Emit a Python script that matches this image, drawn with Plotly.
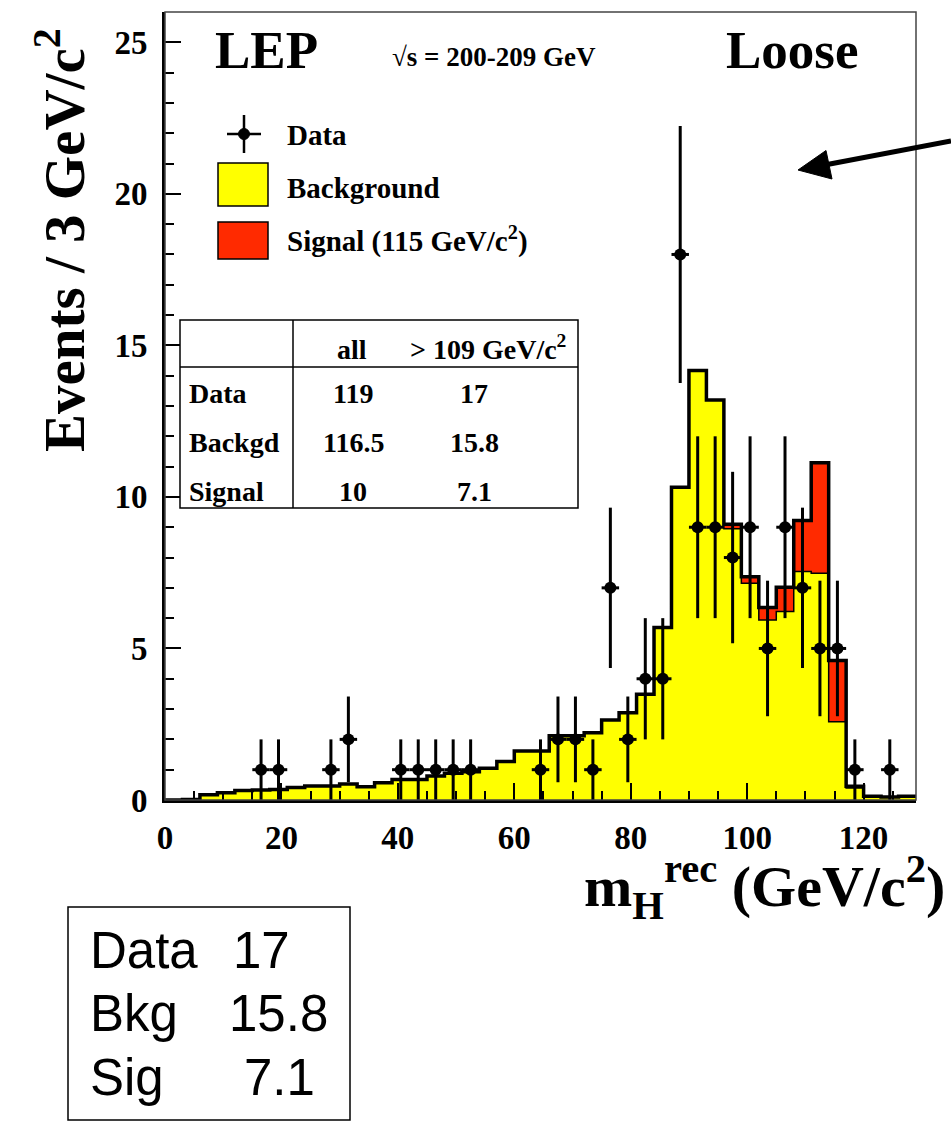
import plotly.graph_objects as go
import numpy as np

# ---------------- data ----------------
bin_edges = [0, 3, 6, 9, 12, 15, 18, 21, 24, 27, 30, 33, 36, 39, 42, 45, 48, 51, 54, 57,
             60, 63, 66, 69, 72, 75, 78, 81, 84, 87, 90, 93, 96, 99, 102, 105, 108, 111,
             114, 117, 120, 123, 126, 129]

background = [0.0, 0.02, 0.17, 0.24, 0.31, 0.33, 0.35, 0.41, 0.46, 0.46,
              0.53, 0.44, 0.57, 0.68, 0.68, 0.79, 0.88, 0.93, 1.05, 1.27,
              1.62, 1.62, 2.12, 2.12, 2.22, 2.64, 2.88, 3.49, 5.69, 10.32,
              14.17, 13.2, 8.95, 7.15, 5.94, 6.22, 7.54, 7.48, 2.58, 0.40,
              0.12, 0.10, 0.12]

signal = [0, 0, 0, 0, 0, 0, 0, 0, 0, 0,
          0, 0, 0, 0, 0, 0, 0, 0, 0, 0,
          0, 0, 0, 0, 0, 0, 0, 0, 0, 0,
          0, 0, 0.15, 0.22, 0.41, 0.80, 1.68, 3.65, 2.02, 0.05,
          0, 0, 0]

data_x = [16.5, 19.5, 28.5, 31.5, 40.5, 43.5, 46.5, 49.5, 52.5, 64.5, 67.5, 70.5,
          73.5, 76.5, 79.5, 82.5, 85.5, 88.5, 91.5, 94.5, 97.5, 100.5, 103.5, 106.5,
          109.5, 112.5, 115.5, 118.5, 124.5]
data_y = [1, 1, 1, 2, 1, 1, 1, 1, 1, 1, 2, 2,
          1, 7, 2, 4, 4, 18, 9, 9, 8, 9, 5, 9,
          7, 5, 5, 1, 1]

x_ticks = [0, 20, 40, 60, 80, 100, 120]
y_ticks = [0, 5, 10, 15, 20, 25]

table_cols = ["all", "> 109 GeV/c<sup>2</sup>"]
table_rows = ["Data", "Backgd", "Signal"]
table_all = ["119", "116.5", "10"]
table_cut = ["17", "15.8", "7.1"]

box_labels = ["Data", "Bkg", "Sig"]
box_values = ["17", "15.8", "7.1"]

# ---------------- layout constants ----------------
FIG_W, FIG_H = 951, 1128
L, R, T, B = 165, 916, 12, 800
PW, PH = R - L, B - T

def px(x):
    return (x - L) / PW

def py(y):
    return (B - y) / PH

YELLOW = "#ffff00"
RED = "#ff2a00"
SERIF = "Liberation Serif"

bw = bin_edges[1] - bin_edges[0]
bkg = np.array(background)
tot = bkg + np.array(signal)
step_x = bin_edges
bkg_step = list(bkg) + [bkg[-1]]
tot_step = list(tot) + [tot[-1]]

fig = go.Figure()
fig.add_trace(go.Scatter(x=step_x, y=tot_step, mode="lines", line_shape="hv",
                         fill="tozeroy", fillcolor=RED, line=dict(color=RED, width=0),
                         showlegend=False, hoverinfo="skip"))
fig.add_trace(go.Scatter(x=step_x, y=bkg_step, mode="lines", line_shape="hv",
                         fill="tozeroy", fillcolor=YELLOW, line=dict(color="black", width=1.5),
                         showlegend=False, hoverinfo="skip"))
fig.add_trace(go.Scatter(x=step_x, y=tot_step, mode="lines", line_shape="hv",
                         line=dict(color="black", width=3.5),
                         showlegend=False, hoverinfo="skip"))
fig.add_trace(go.Scatter(x=data_x, y=data_y, mode="markers",
                         marker=dict(color="black", size=12, symbol="circle"),
                         error_y=dict(type="sqrt", color="black", thickness=3, width=0),
                         error_x=dict(type="constant", value=bw / 2, color="black", thickness=3, width=0),
                         showlegend=False))

tickfont = dict(family=SERIF, size=33, color="black", weight="bold")
fig.update_xaxes(range=[0, 129], tickvals=x_ticks, ticks="inside", ticklen=17, tickwidth=2,
                 tickcolor="black", showline=True, linewidth=3, linecolor="black",
                 showgrid=False, zeroline=False, tickfont=tickfont, ticklabelstandoff=6,
                 minor=dict(dtick=5, tick0=0, ticks="inside", ticklen=9, tickwidth=2,
                            tickcolor="black", showgrid=False))
fig.update_yaxes(range=[0, 26], tickvals=y_ticks, ticks="inside", ticklen=16, tickwidth=2,
                 tickcolor="black", showline=True, linewidth=3, linecolor="black",
                 showgrid=False, zeroline=False, tickfont=tickfont, ticklabelstandoff=8,
                 minor=dict(dtick=1, tick0=0, ticks="inside", ticklen=9, tickwidth=2,
                            tickcolor="black", showgrid=False))

shapes = []
annots = []

# frame
shapes.append(dict(type="rect", xref="paper", yref="paper", x0=0, x1=1, y0=0, y1=1,
                   line=dict(color="#444", width=1.5), layer="above"))

def text(s, x, y, size, xanchor="center", family=SERIF, bold=True, angle=0):
    annots.append(dict(text=s, x=px(x), y=py(y), xref="paper", yref="paper",
                       xanchor=xanchor, yanchor="middle", showarrow=False, textangle=angle,
                       font=dict(family=family, size=size, color="black",
                                 weight="bold" if bold else "normal")))

# header texts
text("LEP", 266, 50, 53)
text("√s = 200-209 GeV", 494, 57, 27)
text("Loose", 792, 50, 53)

# legend
shapes.append(dict(type="line", xref="paper", yref="paper", x0=px(244), x1=px(244),
                   y0=py(115), y1=py(153), line=dict(color="black", width=2.5)))
shapes.append(dict(type="line", xref="paper", yref="paper", x0=px(227), x1=px(261),
                   y0=py(134), y1=py(134), line=dict(color="black", width=2.5)))
shapes.append(dict(type="circle", xref="paper", yref="paper", x0=px(238.5), x1=px(249.5),
                   y0=py(128.5), y1=py(139.5), fillcolor="black", line=dict(color="black", width=1)))
text("Data", 285, 135, 29, xanchor="left")
shapes.append(dict(type="rect", xref="paper", yref="paper", x0=px(218), x1=px(268),
                   y0=py(163), y1=py(206), fillcolor=YELLOW, line=dict(color="black", width=1.5)))
text("Background", 285, 188, 29, xanchor="left")
shapes.append(dict(type="rect", xref="paper", yref="paper", x0=px(218), x1=px(268),
                   y0=py(222), y1=py(259), fillcolor=RED, line=dict(color="black", width=1.5)))
text("Signal (115 GeV/c<sup>2</sup>)", 285, 240, 29, xanchor="left")

# table
shapes.append(dict(type="rect", xref="paper", yref="paper", x0=px(180), x1=px(578),
                   y0=py(320), y1=py(508), fillcolor="white", line=dict(color="black", width=1.5),
                   layer="above"))
shapes.append(dict(type="line", xref="paper", yref="paper", x0=px(293), x1=px(293),
                   y0=py(320), y1=py(508), line=dict(color="black", width=1.5), layer="above"))
shapes.append(dict(type="line", xref="paper", yref="paper", x0=px(180), x1=px(578),
                   y0=py(367), y1=py(367), line=dict(color="black", width=1.5), layer="above"))
text(table_cols[0], 352, 349, 28)
text(table_cols[1], 488, 347, 28)
row_y = [394, 442, 491]
for lab, a, c, yy in zip(table_rows, table_all, table_cut, row_y):
    text(lab, 187, yy, 28, xanchor="left")
    text(a, 353, yy, 28)
    text(c, 474, yy, 28)

# axis titles
text("Events / 3 GeV/c<sup>2</sup>", 60, 240, 57, angle=-90)
annots.append(dict(text="m<sub>H</sub><sup>rec</sup> (GeV/c<sup>2</sup>)", x=px(947), y=py(887),
                   xref="paper", yref="paper", xanchor="right", yanchor="middle",
                   showarrow=False,
                   font=dict(family=SERIF, size=58, color="black", weight="bold")))

# arrow
shapes.append(dict(type="line", xref="paper", yref="paper", x0=px(951), y0=py(141),
                   x1=px(822), y1=py(165.5), line=dict(color="black", width=5)))
shapes.append(dict(type="path", xref="paper", yref="paper",
                   path=f"M {px(798)},{py(170)} L {px(826)},{py(150.5)} L {px(832)},{py(179)} Z",
                   fillcolor="black", line=dict(color="black", width=1)))

# bottom-left summary box
shapes.append(dict(type="rect", xref="paper", yref="paper", x0=px(68), x1=px(350),
                   y0=py(907), y1=py(1120), line=dict(color="black", width=1.5)))
box_y = [950, 1013, 1077]
box_val_x = [231, 227, 242]
for lab, val, yy, vx in zip(box_labels, box_values, box_y, box_val_x):
    text(lab, 88, yy, 51, xanchor="left", family="Liberation Sans", bold=False)
    text(val, vx, yy, 51, xanchor="left", family="Liberation Sans", bold=False)

fig.update_layout(width=FIG_W, height=FIG_H, margin=dict(l=L, r=FIG_W - R, t=T, b=FIG_H - B),
                  paper_bgcolor="white", plot_bgcolor="white", showlegend=False,
                  shapes=shapes, annotations=annots)

fig.write_html("out.html")
